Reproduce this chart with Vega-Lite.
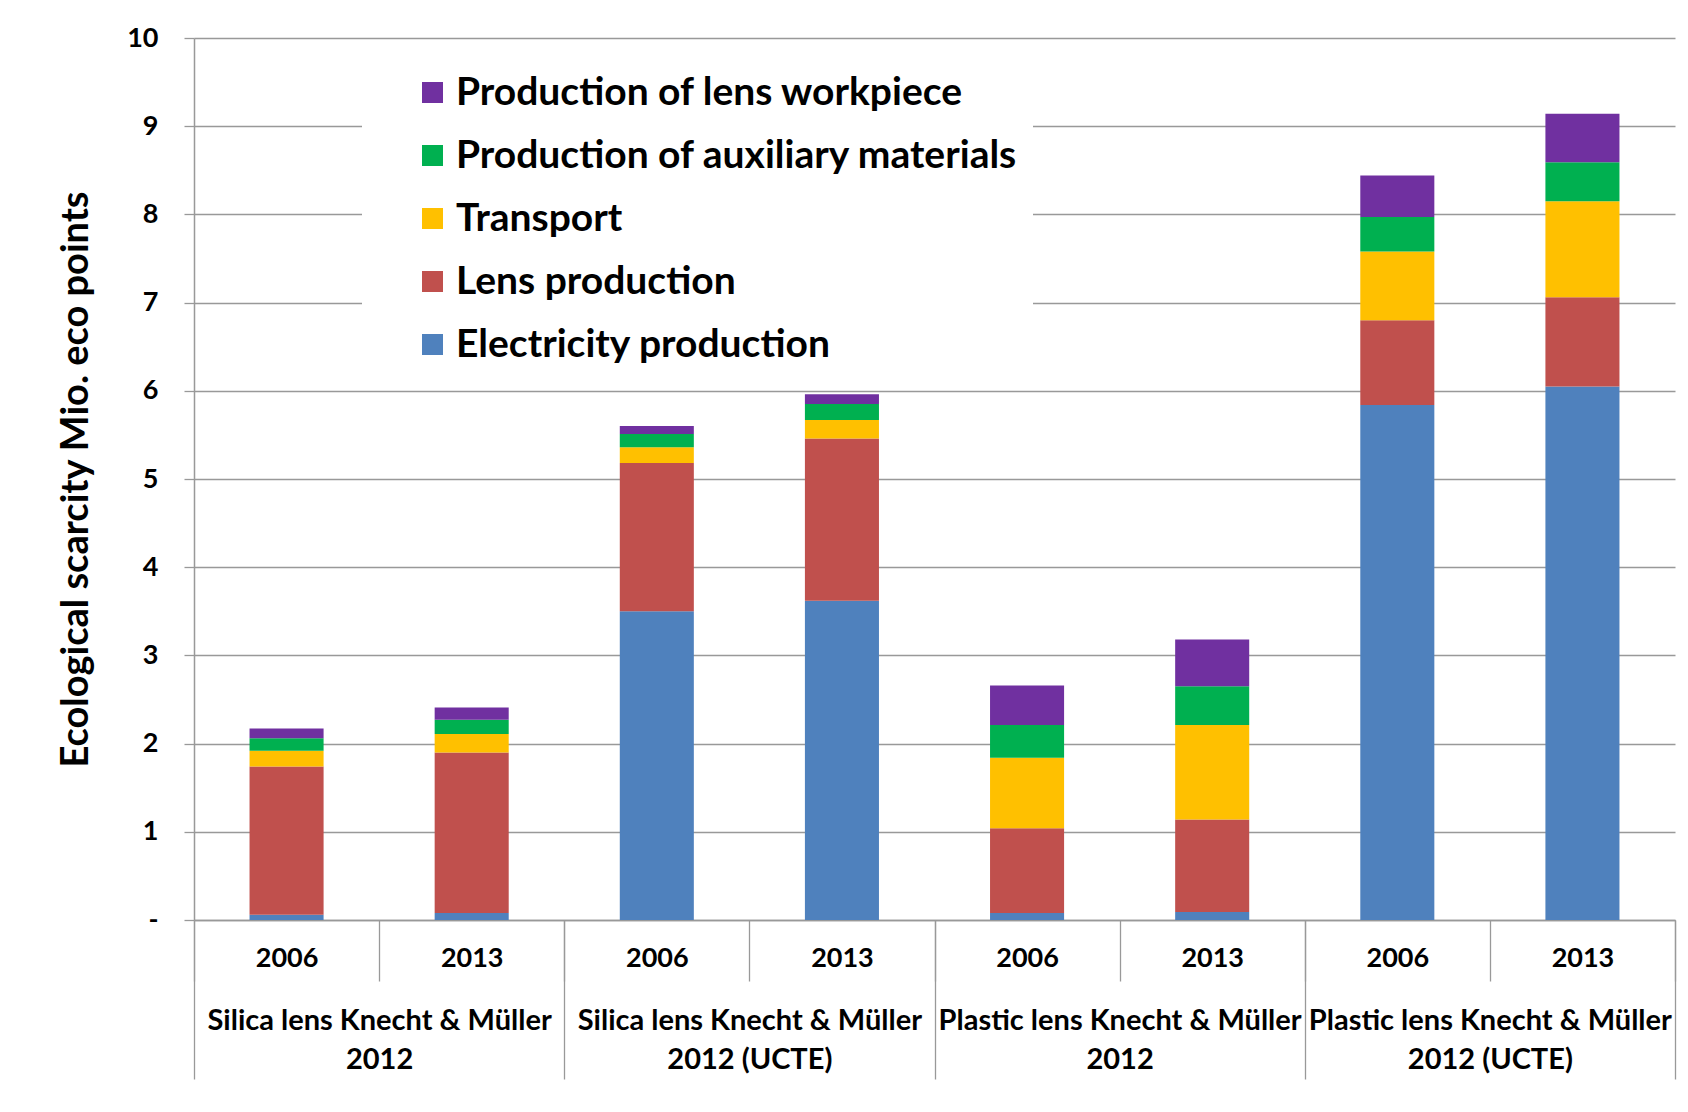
{
  "$schema": "https://vega.github.io/schema/vega-lite/v6.json",
  "autosize": {"type": "none"},
  "padding": {"left": 194, "top": 38, "right": 13, "bottom": 192},
  "width": 1481,
  "height": 882,
  "background": "white",
  "config": {"view": {"stroke": null}, "font": "Lato"},
  "data": {"values": [
    {"bar": "A 2006", "group": "Silica lens Knecht & Müller|2012", "component": "Electricity production", "rank": 1, "value": 0.06},
    {"bar": "A 2006", "group": "Silica lens Knecht & Müller|2012", "component": "Lens production", "rank": 2, "value": 1.68},
    {"bar": "A 2006", "group": "Silica lens Knecht & Müller|2012", "component": "Transport", "rank": 3, "value": 0.18},
    {"bar": "A 2006", "group": "Silica lens Knecht & Müller|2012", "component": "Production of auxiliary materials", "rank": 4, "value": 0.14},
    {"bar": "A 2006", "group": "Silica lens Knecht & Müller|2012", "component": "Production of lens workpiece", "rank": 5, "value": 0.11},
    {"bar": "A 2013", "group": "Silica lens Knecht & Müller|2012", "component": "Electricity production", "rank": 1, "value": 0.08},
    {"bar": "A 2013", "group": "Silica lens Knecht & Müller|2012", "component": "Lens production", "rank": 2, "value": 1.82},
    {"bar": "A 2013", "group": "Silica lens Knecht & Müller|2012", "component": "Transport", "rank": 3, "value": 0.21},
    {"bar": "A 2013", "group": "Silica lens Knecht & Müller|2012", "component": "Production of auxiliary materials", "rank": 4, "value": 0.16},
    {"bar": "A 2013", "group": "Silica lens Knecht & Müller|2012", "component": "Production of lens workpiece", "rank": 5, "value": 0.14},
    {"bar": "B 2006", "group": "Silica lens Knecht & Müller|2012 (UCTE)", "component": "Electricity production", "rank": 1, "value": 3.50},
    {"bar": "B 2006", "group": "Silica lens Knecht & Müller|2012 (UCTE)", "component": "Lens production", "rank": 2, "value": 1.68},
    {"bar": "B 2006", "group": "Silica lens Knecht & Müller|2012 (UCTE)", "component": "Transport", "rank": 3, "value": 0.18},
    {"bar": "B 2006", "group": "Silica lens Knecht & Müller|2012 (UCTE)", "component": "Production of auxiliary materials", "rank": 4, "value": 0.15},
    {"bar": "B 2006", "group": "Silica lens Knecht & Müller|2012 (UCTE)", "component": "Production of lens workpiece", "rank": 5, "value": 0.09},
    {"bar": "B 2013", "group": "Silica lens Knecht & Müller|2012 (UCTE)", "component": "Electricity production", "rank": 1, "value": 3.62},
    {"bar": "B 2013", "group": "Silica lens Knecht & Müller|2012 (UCTE)", "component": "Lens production", "rank": 2, "value": 1.84},
    {"bar": "B 2013", "group": "Silica lens Knecht & Müller|2012 (UCTE)", "component": "Transport", "rank": 3, "value": 0.21},
    {"bar": "B 2013", "group": "Silica lens Knecht & Müller|2012 (UCTE)", "component": "Production of auxiliary materials", "rank": 4, "value": 0.18},
    {"bar": "B 2013", "group": "Silica lens Knecht & Müller|2012 (UCTE)", "component": "Production of lens workpiece", "rank": 5, "value": 0.11},
    {"bar": "C 2006", "group": "Plastic lens Knecht & Müller|2012", "component": "Electricity production", "rank": 1, "value": 0.08},
    {"bar": "C 2006", "group": "Plastic lens Knecht & Müller|2012", "component": "Lens production", "rank": 2, "value": 0.96},
    {"bar": "C 2006", "group": "Plastic lens Knecht & Müller|2012", "component": "Transport", "rank": 3, "value": 0.80},
    {"bar": "C 2006", "group": "Plastic lens Knecht & Müller|2012", "component": "Production of auxiliary materials", "rank": 4, "value": 0.37},
    {"bar": "C 2006", "group": "Plastic lens Knecht & Müller|2012", "component": "Production of lens workpiece", "rank": 5, "value": 0.45},
    {"bar": "C 2013", "group": "Plastic lens Knecht & Müller|2012", "component": "Electricity production", "rank": 1, "value": 0.09},
    {"bar": "C 2013", "group": "Plastic lens Knecht & Müller|2012", "component": "Lens production", "rank": 2, "value": 1.05},
    {"bar": "C 2013", "group": "Plastic lens Knecht & Müller|2012", "component": "Transport", "rank": 3, "value": 1.07},
    {"bar": "C 2013", "group": "Plastic lens Knecht & Müller|2012", "component": "Production of auxiliary materials", "rank": 4, "value": 0.44},
    {"bar": "C 2013", "group": "Plastic lens Knecht & Müller|2012", "component": "Production of lens workpiece", "rank": 5, "value": 0.53},
    {"bar": "D 2006", "group": "Plastic lens Knecht & Müller|2012 (UCTE)", "component": "Electricity production", "rank": 1, "value": 5.84},
    {"bar": "D 2006", "group": "Plastic lens Knecht & Müller|2012 (UCTE)", "component": "Lens production", "rank": 2, "value": 0.96},
    {"bar": "D 2006", "group": "Plastic lens Knecht & Müller|2012 (UCTE)", "component": "Transport", "rank": 3, "value": 0.78},
    {"bar": "D 2006", "group": "Plastic lens Knecht & Müller|2012 (UCTE)", "component": "Production of auxiliary materials", "rank": 4, "value": 0.39},
    {"bar": "D 2006", "group": "Plastic lens Knecht & Müller|2012 (UCTE)", "component": "Production of lens workpiece", "rank": 5, "value": 0.47},
    {"bar": "D 2013", "group": "Plastic lens Knecht & Müller|2012 (UCTE)", "component": "Electricity production", "rank": 1, "value": 6.05},
    {"bar": "D 2013", "group": "Plastic lens Knecht & Müller|2012 (UCTE)", "component": "Lens production", "rank": 2, "value": 1.01},
    {"bar": "D 2013", "group": "Plastic lens Knecht & Müller|2012 (UCTE)", "component": "Transport", "rank": 3, "value": 1.09},
    {"bar": "D 2013", "group": "Plastic lens Knecht & Müller|2012 (UCTE)", "component": "Production of auxiliary materials", "rank": 4, "value": 0.44},
    {"bar": "D 2013", "group": "Plastic lens Knecht & Müller|2012 (UCTE)", "component": "Production of lens workpiece", "rank": 5, "value": 0.55}
  ]},
  "layer": [
    {
      "mark": {"type": "bar", "width": {"band": 0.4}},
      "encoding": {
        "x": {
          "field": "bar", "type": "nominal", "sort": null,
          "scale": {"paddingInner": 0, "paddingOuter": 0},
          "axis": {
            "orient": "bottom", "title": null, "labelAngle": 0,
            "labelExpr": "slice(datum.label, -4)",
            "labelFont": "Lato", "labelFontWeight": "bold", "labelFontSize": 27, "labelColor": "black",
            "labelBaseline": "top",
            "tickBand": "extent", "tickSize": 61, "tickColor": "#999999", "tickWidth": 1.3,
            "labelPadding": -36,
            "domain": true, "domainColor": "#999999", "domainWidth": 1.5
          }
        },
        "y": {
          "field": "value", "type": "quantitative", "stack": "zero",
          "scale": {"domain": [0, 10], "nice": false},
          "axis": {
            "title": "Ecological scarcity Mio. eco points",
            "titleFont": "Lato", "titleFontWeight": "bold", "titleFontSize": 38, "titleColor": "black",
            "titlePadding": 31,
            "values": [0, 1, 2, 3, 4, 5, 6, 7, 8, 9, 10],
            "labelExpr": "datum.value == 0 ? '-' : format(datum.value, 'd')",
            "labelFont": "Lato", "labelFontWeight": "bold", "labelFontSize": 27, "labelColor": "black",
            "labelPadding": 26,
            "grid": true, "gridColor": "#999999", "gridWidth": 1.3,
            "tickSize": 10, "tickColor": "#999999", "tickWidth": 1.3,
            "domain": true, "domainColor": "#999999", "domainWidth": 1.5
          }
        },
        "order": {"field": "rank", "type": "quantitative", "sort": "ascending"},
        "color": {
          "field": "component", "type": "nominal",
          "scale": {
            "domain": ["Production of lens workpiece", "Production of auxiliary materials", "Transport", "Lens production", "Electricity production"],
            "range": ["#7030A0", "#00B050", "#FFC000", "#C0504D", "#4F81BD"]
          },
          "legend": {
            "title": null, "orient": "none", "legendX": 168, "legendY": 20,
            "fillColor": "white", "padding": 15, "symbolOffset": 36,
            "symbolType": "square", "symbolSize": 441, "symbolStrokeWidth": 0,
            "labelFont": "Lato", "labelFontWeight": "bold", "labelFontSize": 39, "labelColor": "black",
            "labelOffset": 4, "rowPadding": 23, "labelLimit": 0,
            "labelExpr": "datum.label == 'Transport' ? '\u00a0Transport' : datum.label"
          }
        }
      }
    },
    {
      "mark": {"type": "point", "opacity": 0},
      "encoding": {
        "x": {
          "field": "group", "type": "nominal", "sort": null,
          "scale": {"paddingInner": 0, "paddingOuter": 0},
          "axis": {
            "orient": "bottom", "title": null, "labelAngle": 0,
            "labelExpr": "split(datum.label, '|')",
            "labelFont": "Lato", "labelFontWeight": "bold", "labelFontSize": 29, "labelColor": "black",
            "labelBaseline": "top", "labelLineHeight": 39, "labelLimit": 0,
            "tickBand": "extent", "tickSize": 159, "tickColor": "#999999", "tickWidth": 1.3,
            "labelPadding": -73, "domain": false
          }
        },
        "y": {"field": "value", "type": "quantitative"}
      }
    }
  ],
  "resolve": {"scale": {"x": "independent"}}
}
